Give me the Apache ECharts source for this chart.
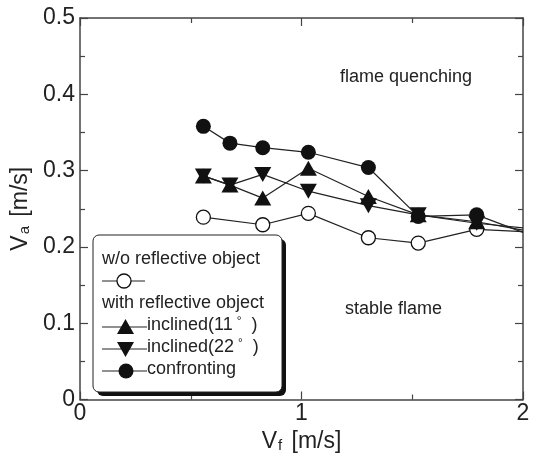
<!DOCTYPE html>
<html><head><meta charset="utf-8">
<script src="https://cdn.jsdelivr.net/npm/echarts@6/dist/echarts.min.js"></script>
<style>html,body{margin:0;padding:0;background:#fff}#c{width:536px;height:455px}</style>
</head><body><div id="c"></div>
<script>
var xTicks = [0, 1, 2];
var yTicks = [0, 0.1, 0.2, 0.3, 0.4, 0.5];
var vfAll = [0.557, 0.677, 0.825, 1.031, 1.302, 1.527, 1.791, 2.0];
var vfWo = [0.557, 0.825, 1.031, 1.302, 1.527, 1.791, 2.0];
var vaWo = [0.239, 0.229, 0.244, 0.212, 0.205, 0.223, 0.220];
var vaIncl11 = [0.293, 0.281, 0.264, 0.303, 0.266, 0.242, 0.233, 0.222];
var vaIncl22 = [0.293, 0.281, 0.295, 0.273, 0.254, 0.242, 0.231, 0.225];
var vaConf = [0.358, 0.336, 0.330, 0.324, 0.304, 0.240, 0.242, 0.219];
var seriesNames = ['w/o reflective object', 'inclined(11°)', 'inclined(22°)', 'confronting'];

function pts(xs, ys) {
  return ys.map(function (v, i) {
    var d = { value: [xs[i], v] };
    if (xs[i] >= 2) d.symbol = 'none';
    return d;
  });
}
var FONT = 'Liberation Sans';
var TXT = '#222';
var chart = echarts.init(document.getElementById('c'));
var downTri = 'path://M0,0L20,0L10,17Z';
function axisBase() {
  return {
    min: 0, axisLine: { show: true, onZero: false, lineStyle: { color: '#444', width: 1.5 } },
    splitLine: { show: false },
    axisTick: { show: true, inside: true, length: 8, lineStyle: { color: '#444', width: 1.2 } },
    minorTick: { show: true, splitNumber: 2, length: 5, lineStyle: { color: '#444', width: 1.2 } }
  };
}
var nameRich = { n: { fontFamily: FONT, fontSize: 23, color: TXT },
  s: { fontFamily: FONT, fontSize: 15, color: TXT, verticalAlign: 'bottom', padding: [0, 3, 0, 1] } };
var lx = 93, ly = 235;
chart.setOption({
  animation: false,
  grid: { left: 80, right: 13, top: 18, bottom: 55.5, containLabel: false, outerBoundsMode: 'none' },
  xAxis: [
    Object.assign(axisBase(), {
      type: 'value', max: 2, interval: 1, position: 'bottom',
      axisLabel: { color: TXT, fontFamily: FONT, fontSize: 23, margin: 3,
        formatter: function (v) { return xTicks.indexOf(v) >= 0 ? String(v) : ''; } },
      name: '{n|V}{s|f}{n| [m/s]}', nameLocation: 'middle', nameGap: 16,
      nameTextStyle: { rich: nameRich }
    }),
    Object.assign(axisBase(), { type: 'value', max: 2, interval: 1, position: 'top', axisLabel: { show: false } })
  ],
  yAxis: [
    Object.assign(axisBase(), {
      type: 'value', max: 0.5, interval: 0.1, position: 'left',
      axisLabel: { color: TXT, fontFamily: FONT, fontSize: 23, margin: 5,
        formatter: function (v) { var r = Math.round(v * 10) / 10; return r === 0 ? '0' : r.toFixed(1); } },
      name: '{n|V}{s|a}{n| [m/s]}', nameLocation: 'middle', nameGap: 37, nameRotate: 90,
      nameTextStyle: { rich: nameRich }
    }),
    Object.assign(axisBase(), { type: 'value', max: 0.5, interval: 0.1, position: 'right', axisLabel: { show: false } })
  ],
  series: [
    { name: seriesNames[0], type: 'line', data: pts(vfWo, vaWo), symbol: 'circle', symbolSize: 14,
      itemStyle: { color: '#fff', borderColor: '#111', borderWidth: 1.3 }, lineStyle: { color: '#222', width: 1.2 }, z: 2 },
    { name: seriesNames[1], type: 'line', data: pts(vfAll, vaIncl11), symbol: 'triangle', symbolSize: [17, 15],
      itemStyle: { color: '#111' }, lineStyle: { color: '#222', width: 1.2 }, z: 3 },
    { name: seriesNames[2], type: 'line', data: pts(vfAll, vaIncl22), symbol: downTri, symbolSize: [17, 15],
      itemStyle: { color: '#111' }, lineStyle: { color: '#222', width: 1.2 }, z: 3 },
    { name: seriesNames[3], type: 'line', data: pts(vfAll, vaConf), symbol: 'circle', symbolSize: 15,
      itemStyle: { color: '#111' }, lineStyle: { color: '#222', width: 1.2 }, z: 4 }
  ],
  graphic: [
    { type: 'text', left: 340, top: 68, style: { text: 'flame quenching', font: '18px Liberation Sans', fill: TXT } },
    { type: 'text', left: 345, top: 300, style: { text: 'stable flame', font: '18px Liberation Sans', fill: TXT } },
    { type: 'rect', shape: { x: lx + 4, y: ly + 4, width: 189, height: 157, r: 6 }, z: 99,
      style: { fill: '#111' } },
    { type: 'rect', shape: { x: lx, y: ly, width: 189, height: 157, r: 6 }, z: 100,
      style: { fill: '#fff', stroke: '#222', lineWidth: 1 } },
    { type: 'text', x: 102, y: 250, z: 101, style: { text: 'w/o reflective object', font: '18px Liberation Sans', fill: TXT } },
    { type: 'line', z: 101, shape: { x1: 102, y1: 281, x2: 145, y2: 281 }, style: { stroke: '#222', lineWidth: 1.2 } },
    { type: 'circle', z: 102, shape: { cx: 124, cy: 281, r: 7 }, style: { fill: '#fff', stroke: '#111', lineWidth: 1.3 } },
    { type: 'text', x: 102, y: 294, z: 101, style: { text: 'with reflective object', font: '18px Liberation Sans', fill: TXT } },
    { type: 'line', z: 101, shape: { x1: 102, y1: 327, x2: 147, y2: 327 }, style: { stroke: '#222', lineWidth: 1.2 } },
    { type: 'polygon', z: 102, shape: { points: [[117, 334], [134, 334], [125.5, 319]] }, style: { fill: '#111' } },
    { type: 'text', x: 147, y: 316, z: 101, style: { text: 'inclined(11{d|°}  )', font: '18px Liberation Sans', fill: TXT,
      rich: { d: { fontSize: 12, verticalAlign: 'top', padding: [0, 0, 6, 4], fill: TXT, fontFamily: FONT } } } },
    { type: 'line', z: 101, shape: { x1: 102, y1: 349, x2: 147, y2: 349 }, style: { stroke: '#222', lineWidth: 1.2 } },
    { type: 'polygon', z: 102, shape: { points: [[117, 342], [134, 342], [125.5, 357]] }, style: { fill: '#111' } },
    { type: 'text', x: 147, y: 338, z: 101, style: { text: 'inclined(22{d|°}  )', font: '18px Liberation Sans', fill: TXT,
      rich: { d: { fontSize: 12, verticalAlign: 'top', padding: [0, 0, 6, 4], fill: TXT, fontFamily: FONT } } } },
    { type: 'line', z: 101, shape: { x1: 102, y1: 371, x2: 147, y2: 371 }, style: { stroke: '#222', lineWidth: 1.2 } },
    { type: 'circle', z: 102, shape: { cx: 126, cy: 371, r: 7.5 }, style: { fill: '#111' } },
    { type: 'text', x: 147, y: 360, z: 101, style: { text: 'confronting', font: '18px Liberation Sans', fill: TXT } }
  ]
});
</script></body></html>
